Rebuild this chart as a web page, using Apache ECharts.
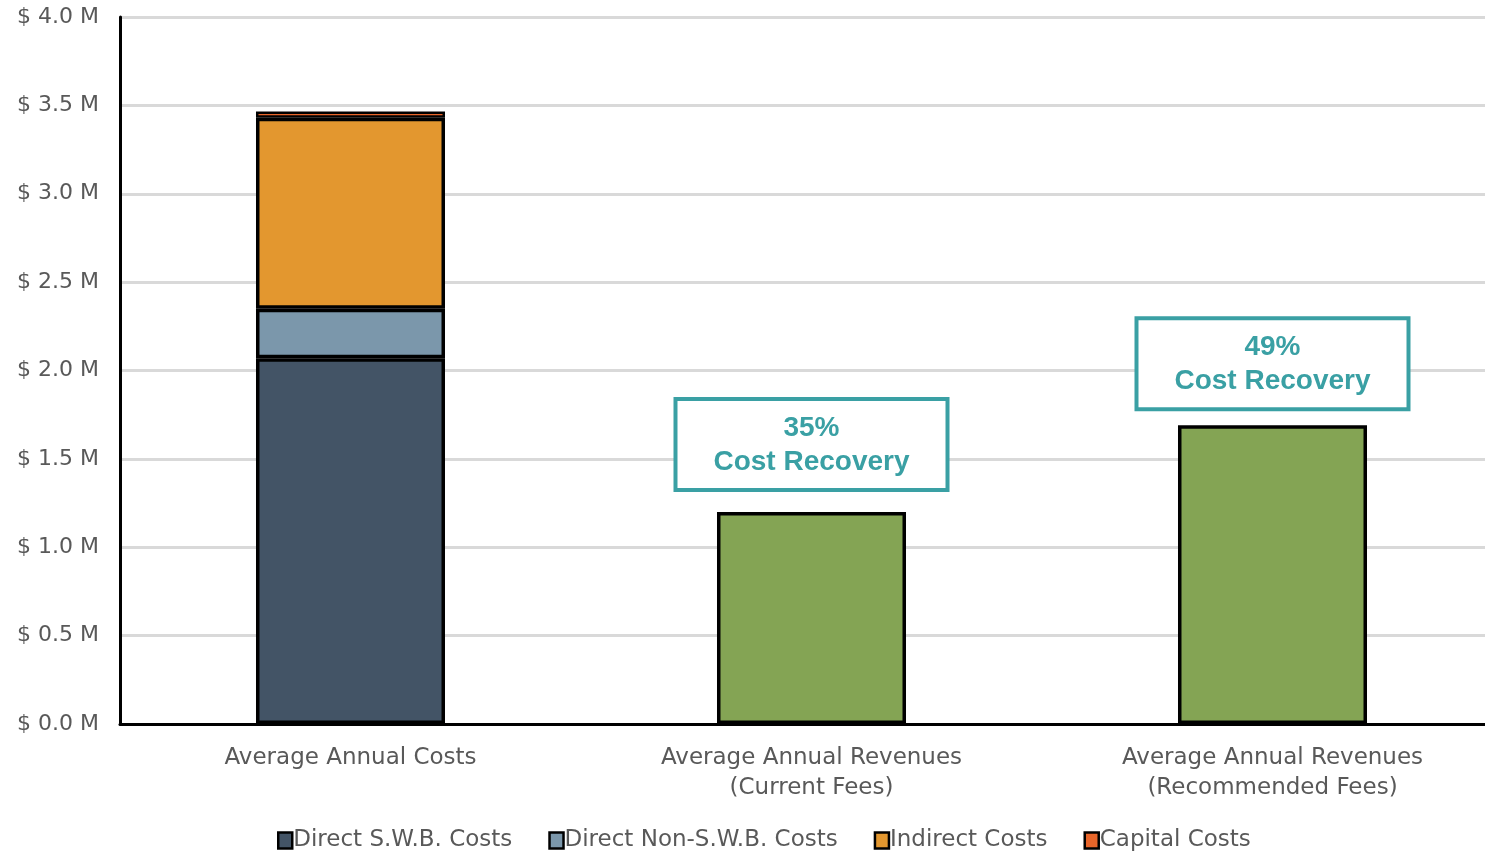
<!DOCTYPE html>
<html><head><meta charset="utf-8">
<script src="https://cdn.jsdelivr.net/npm/echarts@6/dist/echarts.min.js"></script>
<style>html,body{margin:0;padding:0;background:#fff;overflow:hidden}#c{width:1503px;height:853px}</style>
</head><body><div id="c"></div>
<script>
const categories = ['Average Annual Costs', 'Average Annual Revenues\n(Current Fees)', 'Average Annual Revenues\n(Recommended Fees)'];
const directSWB = [2.07, '-', '-'];
const directNonSWB = [0.28, '-', '-'];
const indirectCosts = [1.08, '-', '-'];
const capitalCosts = [0.035, '-', '-'];
const revenues = ['-', 1.20, 1.69];
const recoveryLabels = ['', '35%\nCost Recovery', '49%\nCost Recovery'];
const yTicks = { min: 0, max: 4, interval: 0.5 };

const font = 'DejaVu Sans';
const gray = '#595959';
const teal = '#3aa0a4';
const labelGaps = [0, 24, 18];

function costSeries(name, data, color, bw) {
  return {
    name, type: 'bar', stack: 'a', data, barWidth: '41%',
    itemStyle: { color, borderColor: '#000', borderWidth: bw || 3.5 }
  };
}

const chart = echarts.init(document.getElementById('c'));
chart.setOption({
  animation: false,
  grid: { left: 120, right: 0, top: 17, bottom: 129, containLabel: false },
  legend: {
    bottom: -4, left: 272, itemWidth: 14, itemHeight: 16, itemGap: 36,
    icon: 'rect',
    textStyle: { fontFamily: font, fontSize: 23, color: gray, padding: [0, 0, 0, -4] },
    itemStyle: { borderColor: '#000', borderWidth: 2.5 },
    data: ['Direct S.W.B. Costs', 'Direct Non-S.W.B. Costs', 'Indirect Costs', 'Capital Costs']
  },
  xAxis: {
    type: 'category', data: categories,
    axisLine: { lineStyle: { color: '#000', width: 3 } },
    axisTick: { show: false },
    axisLabel: { fontFamily: font, fontSize: 23, color: gray, margin: 19, lineHeight: 30 }
  },
  yAxis: {
    type: 'value', min: yTicks.min, max: yTicks.max, interval: yTicks.interval,
    axisLine: { show: true, lineStyle: { color: '#000', width: 3 } },
    axisTick: { show: false },
    splitLine: { lineStyle: { color: '#d9d9d9', width: 3 } },
    axisLabel: { fontFamily: font, fontSize: 22, color: gray, margin: 21,
      formatter: v => '$ ' + v.toFixed(1) + ' M' }
  },
  series: [
    costSeries('Direct S.W.B. Costs', directSWB, '#435466'),
    costSeries('Direct Non-S.W.B. Costs', directNonSWB, '#7b97ab'),
    costSeries('Indirect Costs', indirectCosts, '#e3972f'),
    costSeries('Capital Costs', capitalCosts, '#e8652a', 2.5),
    {
      name: 'Revenues', type: 'bar', stack: 'a', barWidth: '41%',
      data: revenues.map((v, i) => ({ value: v, label: { distance: labelGaps[i] } })),
      itemStyle: { color: '#84a454', borderColor: '#000', borderWidth: 3.5 },
      label: {
        show: true, position: 'top',
        formatter: p => recoveryLabels[p.dataIndex],
        fontFamily: 'Liberation Sans', fontWeight: 'bold', fontSize: 28, color: teal,
        lineHeight: 34, align: 'center',
        backgroundColor: '#fff', borderColor: teal, borderWidth: 4,
        width: 268, padding: [10, 0, 9, 0]
      }
    }
  ]
});
</script>
</body></html>
